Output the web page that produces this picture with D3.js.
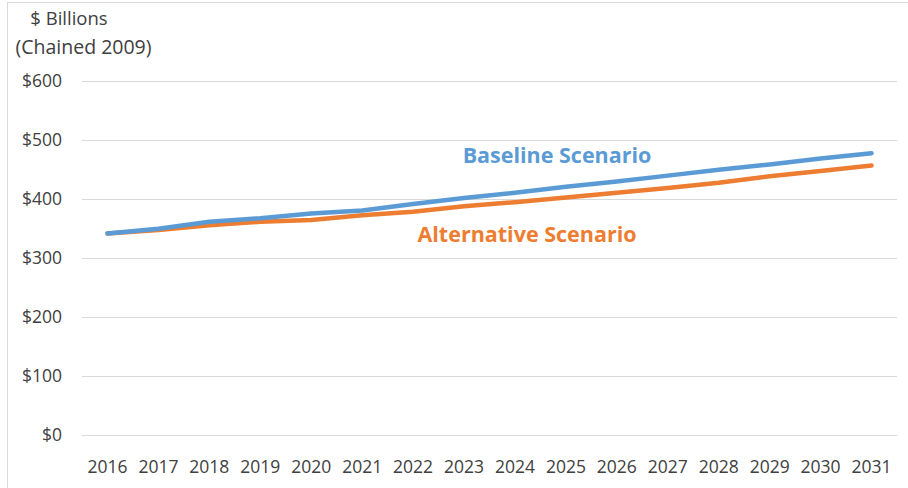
<!DOCTYPE html>
<html><head><meta charset="utf-8">
<script src="https://cdn.jsdelivr.net/npm/d3@7"></script>
<style>body{margin:0;background:#fff}svg{display:block}</style>
</head><body>
<script>
const years = ["2016","2017","2018","2019","2020","2021","2022","2023","2024","2025","2026","2027","2028","2029","2030","2031"];
const baseline = [341,349,361,367,375,380,391,401,410,420,429,439,449,458,468,477];
const alternative = [341,347,355,361,364,372,378,387,394,402,410,418,427,438,447,456];
const yTicks = [0,100,200,300,400,500,600];

const W=908,H=488;
const svg=d3.select("body").append("svg").attr("width",W).attr("height",H);
const font="'Open Sans', sans-serif";
svg.append("rect").attr("x",7.5).attr("y",2.5).attr("width",W+10).attr("height",H+10)
  .attr("fill","none").attr("stroke","#d9d9d9");

const x=d3.scaleBand().domain(years).range([82,897]);
const y=d3.scaleLinear().domain([0,600]).range([435,80.5]);

svg.append("g").selectAll("line").data(yTicks).join("line")
  .attr("x1",82).attr("x2",897).attr("y1",d=>Math.round(y(d))+0.5).attr("y2",d=>Math.round(y(d))+0.5)
  .attr("stroke","#d9d9d9").attr("stroke-width",1);

const ya=svg.append("g").attr("transform","translate(82,0)")
  .call(d3.axisLeft(y).tickValues(yTicks).tickSize(0).tickPadding(20).tickFormat(d=>"$"+d));
ya.select(".domain").remove();
ya.selectAll("text").attr("font-family",font).attr("font-size",17.5).attr("fill","#404040");

const xa=svg.append("g").attr("transform","translate(0,435)")
  .call(d3.axisBottom(x).tickSize(0).tickPadding(26));
xa.select(".domain").remove();
xa.selectAll("text").attr("font-family",font).attr("font-size",17.5).attr("fill","#404040");

const line=d3.line().x((d,i)=>x(years[i])+x.bandwidth()/2).y(d=>y(d));
svg.append("path").datum(alternative).attr("d",line).attr("fill","none")
  .attr("stroke","#ED7D31").attr("stroke-width",4.5).attr("stroke-linecap","round").attr("stroke-linejoin","round");
svg.append("path").datum(baseline).attr("d",line).attr("fill","none")
  .attr("stroke","#5B9BD5").attr("stroke-width",4.5).attr("stroke-linecap","round").attr("stroke-linejoin","round");

svg.append("text").attr("x",557).attr("y",163).attr("text-anchor","middle")
  .attr("font-family",font).attr("font-weight","bold").attr("font-size",21.5).attr("fill","#5B9BD5").text("Baseline Scenario");
svg.append("text").attr("x",527).attr("y",242).attr("text-anchor","middle")
  .attr("font-family",font).attr("font-weight","bold").attr("font-size",21.5).attr("fill","#ED7D31").text("Alternative Scenario");

svg.append("text").attr("x",69).attr("y",25).attr("text-anchor","middle")
  .attr("font-family",font).attr("font-size",18.5).attr("fill","#404040").text("$ Billions");
svg.append("text").attr("x",83.5).attr("y",54).attr("text-anchor","middle")
  .attr("font-family",font).attr("font-size",19.5).attr("fill","#404040").text("(Chained 2009)");
</script>
</body></html>
